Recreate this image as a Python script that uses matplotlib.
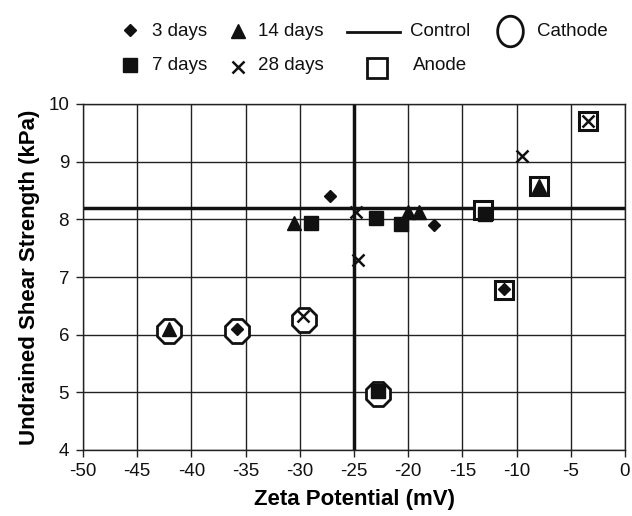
import matplotlib
matplotlib.use("Agg")
import matplotlib.pyplot as plt
from matplotlib.lines import Line2D
from matplotlib.path import Path
import numpy as np

plt.rcParams['font.family'] = ['Liberation Sans', 'DejaVu Sans']

# 3 days (diamond)
d3_x = [-27.2, -17.6, -35.8, -11.2, -22.8]
d3_y = [8.4, 7.9, 6.1, 6.8, 5.0]
# 7 days (square)
d7_x = [-29.0, -23.0, -20.7, -12.9, -22.8]
d7_y = [7.93, 8.02, 7.92, 8.1, 5.02]
# 14 days (triangle)
d14_x = [-42.1, -30.5, -20.0, -19.0, -7.9]
d14_y = [6.1, 7.93, 8.12, 8.12, 8.57]
# 28 days (x)
d28_x = [-24.8, -24.6, -9.5, -29.7, -3.4]
d28_y = [8.12, 7.3, 9.1, 6.33, 9.7]
# Cathode (open octagon)
cat_x = [-42.1, -35.8, -29.6, -22.8]
cat_y = [6.07, 6.07, 6.26, 4.97]
# Anode (open square)
an_x = [-13.1, -11.2, -7.9, -3.4]
an_y = [8.16, 6.78, 8.57, 9.7]
# Control
control_x = -25
control_y = 8.2

xticks = list(range(-50, 1, 5))
yticks = list(range(4, 11))

FS = 13.5

fig = plt.figure(figsize=(6.32, 5.16), dpi=100)
ax = fig.add_axes([83/632, 1-450/516, (625-83)/632, (450-104)/516])
ax.set_xlim(-50, 0)
ax.set_ylim(4, 10)
ax.set_xticks(xticks)
ax.set_yticks(yticks)
ax.set_xticklabels([str(t) for t in xticks], fontsize=FS)
ax.set_yticklabels([str(t) for t in yticks], fontsize=FS)
ax.grid(True, color='#222222', lw=1.0)
ax.set_axisbelow(True)
for s in ax.spines.values():
    s.set_color('#222222')
    s.set_linewidth(1.0)
ax.tick_params(direction='out', length=5, width=1, colors='#222222', labelcolor='#111111')
ax.tick_params(axis='y', pad=5)
ax.tick_params(axis='x', pad=4)

ax.axvline(control_x, color='#111111', lw=2.5, zorder=2)
ax.axhline(control_y, color='#111111', lw=2.5, zorder=2)

ax.plot(cat_x, cat_y, ls='none', marker='8', ms=18.5, mfc='white', mec='#111111', mew=2, zorder=3)
ax.plot(an_x, an_y, ls='none', marker='s', ms=13.5, mfc='white', mec='#111111', mew=2.2, zorder=3)
ax.plot(d3_x, d3_y, ls='none', marker='D', ms=6.5, color='#111111', zorder=4)
ax.plot(d7_x, d7_y, ls='none', marker='s', ms=9.5, color='#111111', zorder=4)
ax.plot(d14_x, d14_y, ls='none', marker='^', ms=9.5, color='#111111', zorder=4)
ax.plot(d28_x, d28_y, ls='none', marker='x', ms=8.5, mew=1.8, color='#111111', zorder=4)

ax.set_xlabel('Zeta Potential (mV)', fontsize=16, fontweight='bold', va='center')
ax.set_ylabel('Undrained Shear Strength (kPa)', fontsize=16, fontweight='bold', va='center')
ax.xaxis.set_label_coords(0.5, (450 - 499) / 346)
ax.yaxis.set_label_coords((30 - 83) / 542, 0.5)

# custom legend in figure pixel coords
def fx(px):
    return px / 632
def fy(py):
    return 1 - py / 516

def mk(px, py, **kw):
    fig.add_artist(Line2D([fx(px)], [fy(py)], transform=fig.transFigure, ls='none', **kw))

def txt(px, py, s):
    fig.text(fx(px), fy(py), s, fontsize=FS, ha='left', va='center', color='#111111')

t = np.linspace(0, 2*np.pi, 60)
oval = Path(np.column_stack([0.84*np.cos(t), np.sin(t)]))

mk(130, 30, marker='D', ms=6.5, color='#111111')
txt(152, 31, '3 days')
mk(238, 31, marker='^', ms=9.5, color='#111111')
txt(258, 31, '14 days')
fig.add_artist(Line2D([fx(347), fx(400)], [fy(32), fy(32)], transform=fig.transFigure, color='#111111', lw=2))
txt(410, 32, 'Control')
mk(510, 31, marker=oval, ms=22, mfc='white', mec='#111111', mew=2)
txt(537, 31, 'Cathode')
mk(130, 65, marker='s', ms=9.5, color='#111111')
txt(152, 65, '7 days')
mk(238, 67, marker='x', ms=8.5, mew=1.8, color='#111111')
txt(258, 66, '28 days')
mk(377, 68, marker='s', ms=15, mfc='white', mec='#111111', mew=2)
txt(413, 66, 'Anode')

fig.savefig('out.png', dpi=100)
